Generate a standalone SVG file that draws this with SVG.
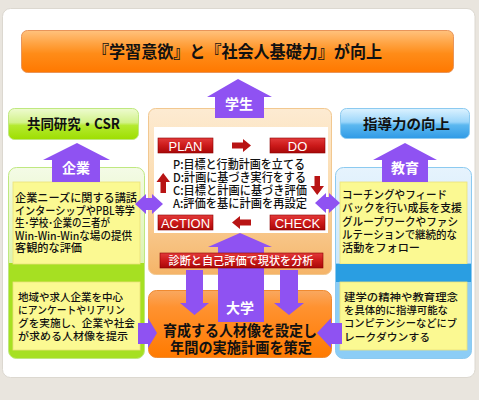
<svg xmlns="http://www.w3.org/2000/svg" width="479" height="400" viewBox="0 0 479 400">
<defs>
<linearGradient id="gTitle" x1="0" y1="0" x2="0" y2="1">
<stop offset="0" stop-color="#ffc27e"/><stop offset="0.3" stop-color="#ffa444"/><stop offset="0.55" stop-color="#ff8c18"/><stop offset="1" stop-color="#ff7800"/>
</linearGradient>
<linearGradient id="gGreenHead" x1="0" y1="0" x2="0" y2="1">
<stop offset="0" stop-color="#eefbd0"/><stop offset="0.45" stop-color="#d2f28a"/><stop offset="0.55" stop-color="#b4ea30"/><stop offset="1" stop-color="#9ede00"/>
</linearGradient>
<linearGradient id="gBlueHead" x1="0" y1="0" x2="0" y2="1">
<stop offset="0" stop-color="#dcf2ff"/><stop offset="0.45" stop-color="#9cd6fa"/><stop offset="0.55" stop-color="#5cb8f0"/><stop offset="1" stop-color="#2f9ae6"/>
</linearGradient>
<linearGradient id="gGreenBox" x1="0" y1="0" x2="0" y2="1">
<stop offset="0" stop-color="#f4fbe6"/><stop offset="0.5" stop-color="#dcf3b0"/><stop offset="0.5" stop-color="#a6e022"/><stop offset="1" stop-color="#a6e022"/>
</linearGradient>
<linearGradient id="gBlueBox" x1="0" y1="0" x2="0" y2="1">
<stop offset="0" stop-color="#e6f3fd"/><stop offset="0.5" stop-color="#cce7fa"/><stop offset="0.5" stop-color="#8ccdf6"/><stop offset="1" stop-color="#8ccdf6"/>
</linearGradient>
<linearGradient id="gCenter" x1="0" y1="0" x2="0" y2="1">
<stop offset="0" stop-color="#fdebd2"/><stop offset="0.45" stop-color="#fbdcb0"/><stop offset="1" stop-color="#f5b468"/>
</linearGradient>
<linearGradient id="gUniv" x1="0" y1="0" x2="0" y2="1">
<stop offset="0" stop-color="#f9a860"/><stop offset="0.25" stop-color="#ff9230"/><stop offset="1" stop-color="#ff7a00"/>
</linearGradient>
<linearGradient id="gRed" x1="0" y1="0" x2="0" y2="1">
<stop offset="0" stop-color="#e23a3a"/><stop offset="0.5" stop-color="#cc1a1a"/><stop offset="1" stop-color="#a80808"/>
</linearGradient>
<style>
.jp{font-family:"Noto Sans CJK JP","Noto Sans",sans-serif}
.title{font-size:17px;font-weight:bold;fill:#111;text-anchor:middle}
.head{font-size:14px;font-weight:bold;fill:#111;text-anchor:middle}
.lbl{font-size:14px;font-weight:bold;fill:#fff;text-anchor:middle}
.body{font-size:11px;font-weight:500;fill:#111}
.body2{font-size:10.5px;font-weight:500;fill:#111}
.pdca{font-size:12px;font-weight:500;fill:#111}
.btn{font-family:"Liberation Sans",Arial,sans-serif;font-size:13px;fill:#fff;text-anchor:middle}
.redbar{font-size:11px;font-weight:500;fill:#fff;text-anchor:middle}
.univ{font-size:15px;font-weight:bold;fill:#111;text-anchor:middle}
.arrow{fill:#8f52f2}
.rarrow{fill:#b81414}
.yel{fill:#fbf992;stroke:#ece27a;stroke-width:0.8}
.btnr{fill:url(#gRed);stroke:#8a0000;stroke-width:0.6}
</style>
</defs>
<rect x="0" y="0" width="479" height="400" fill="#e9e5de"/>
<rect x="2.5" y="8.5" width="472.5" height="369" rx="8" fill="#ffffff" stroke="#dcd8d0"/>

<g id="title">
<rect x="21.5" y="30.5" width="432" height="42" rx="6" fill="url(#gTitle)" stroke="#e8955a"/>
<text class="jp title" x="237.5" y="58" textLength="289" lengthAdjust="spacingAndGlyphs">『学習意欲』と『社会人基礎力』が向上</text>
</g>

<g id="csr-head">
<rect x="8.5" y="108.5" width="130" height="31" rx="6" fill="url(#gGreenHead)" stroke="#bfe880"/>
<text class="jp head" x="73.5" y="129" textLength="93" lengthAdjust="spacingAndGlyphs">共同研究・CSR</text>
</g>

<g id="shido-head">
<rect x="340.5" y="108.5" width="129" height="30" rx="6" fill="url(#gBlueHead)" stroke="#8ccaf0"/>
<text class="jp head" x="406.5" y="129" textLength="87" lengthAdjust="spacingAndGlyphs">指導力の向上</text>
</g>

<g id="kigyo">
<rect x="8.5" y="167.5" width="136" height="191" rx="8" fill="url(#gGreenBox)" stroke="#bfe880"/>
<rect x="13" y="182" width="127" height="82" class="yel"/>
<rect x="13" y="282" width="127" height="68" class="yel"/>
<text class="jp body" x="15" y="202" textLength="122" lengthAdjust="spacingAndGlyphs">企業ニーズに関する講話</text>
<text class="jp body" x="15" y="214.5" textLength="120" lengthAdjust="spacingAndGlyphs">インターシップやPBL等学</text>
<text class="jp body" x="15" y="227" textLength="95" lengthAdjust="spacingAndGlyphs">生･学校･企業の三者が</text>
<text class="jp body" x="15" y="239.5" textLength="117" lengthAdjust="spacingAndGlyphs">Win-Win-Winな場の提供</text>
<text class="jp body" x="15" y="252" textLength="67" lengthAdjust="spacingAndGlyphs">客観的な評価</text>
<text class="jp body2" x="18" y="301" textLength="105" lengthAdjust="spacingAndGlyphs">地域や求人企業を中心</text>
<text class="jp body2" x="18" y="314" textLength="107" lengthAdjust="spacingAndGlyphs">にアンケートやリアリン</text>
<text class="jp body2" x="18" y="327" textLength="117" lengthAdjust="spacingAndGlyphs">グを実施し、企業や社会</text>
<text class="jp body2" x="18" y="340" textLength="110" lengthAdjust="spacingAndGlyphs">が求める人材像を提示</text>
</g>

<g id="kyoiku">
<rect x="335.5" y="167.5" width="136" height="191" rx="8" fill="url(#gBlueBox)" stroke="#8ccaf0"/>
<rect x="340" y="182" width="127" height="82" class="yel"/>
<rect x="336" y="264" width="135" height="18" fill="#2a9ee2"/>
<rect x="340" y="282" width="127" height="68" class="yel"/>
<text class="jp body" x="342" y="199" textLength="105" lengthAdjust="spacingAndGlyphs">コーチングやフィード</text>
<text class="jp body" x="342" y="212" textLength="120" lengthAdjust="spacingAndGlyphs">バックを行い成長を支援</text>
<text class="jp body" x="342" y="226" textLength="116" lengthAdjust="spacingAndGlyphs">グループワークやファシ</text>
<text class="jp body" x="342" y="239" textLength="115" lengthAdjust="spacingAndGlyphs">ルテーションで継続的な</text>
<text class="jp body" x="342" y="252" textLength="78" lengthAdjust="spacingAndGlyphs">活動をフォロー</text>
<text class="jp body2" x="344" y="301" textLength="114" lengthAdjust="spacingAndGlyphs">建学の精神や教育理念</text>
<text class="jp body2" x="344" y="314" textLength="104" lengthAdjust="spacingAndGlyphs">を具体的に指導可能な</text>
<text class="jp body2" x="344" y="327" textLength="113" lengthAdjust="spacingAndGlyphs">コンピテンシーなどにブ</text>
<text class="jp body2" x="344" y="341" textLength="86" lengthAdjust="spacingAndGlyphs">レークダウンする</text>
</g>

<g id="pdca">
<rect x="148.5" y="108.5" width="183" height="166" rx="7" fill="url(#gCenter)" stroke="#f2c890"/>
<rect x="154" y="127" width="174" height="106" fill="#ffffff"/>
<rect class="btnr" x="158" y="138" width="55" height="15"/>
<text class="btn" x="185.5" y="150.5">PLAN</text>
<rect class="btnr" x="270" y="138" width="55" height="15"/>
<text class="btn" x="297.5" y="150.5">DO</text>
<rect class="btnr" x="158" y="215" width="55" height="15"/>
<text class="btn" x="185.5" y="227.5">ACTION</text>
<rect class="btnr" x="270" y="215" width="55" height="15"/>
<text class="btn" x="297.5" y="227.5">CHECK</text>
<polygon class="rarrow" points="232,142.5 243,142.5 243,139 251,145.5 243,152 243,148.5 232,148.5"/>
<polygon class="rarrow" points="251,219.5 240,219.5 240,216 232,222.5 240,229 240,225.5 251,225.5"/>
<polygon class="rarrow" points="314.5,176 320,176 320,186 324,186 317.2,195 310.5,186 314.5,186"/>
<polygon class="rarrow" points="160.5,193 166,193 166,182 170,182 163.2,173 156.5,182 160.5,182"/>
<text class="jp pdca" x="173" y="168.5" textLength="132" lengthAdjust="spacingAndGlyphs">P:目標と行動計画を立てる</text>
<text class="jp pdca" x="173" y="181.5" textLength="133" lengthAdjust="spacingAndGlyphs">D:計画に基づき実行をする</text>
<text class="jp pdca" x="173" y="194.5" textLength="134" lengthAdjust="spacingAndGlyphs">C:目標と計画に基づき評価</text>
<text class="jp pdca" x="173" y="207.5" textLength="134" lengthAdjust="spacingAndGlyphs">A:評価を基に計画を再設定</text>
</g>

<g id="daigaku">
<rect x="148.5" y="290.5" width="183" height="67" rx="8" fill="url(#gUniv)" stroke="#f08a30"/>
</g>

<g id="connectors">
<polygon class="arrow" points="238,79 272,97 264,97 264,118 215,118 215,97 207,97"/>
<text class="jp lbl" x="239" y="109">学生</text>
<polygon class="arrow" points="77,143 110,160 100,160 100,182 52,182 52,160 43,160"/>
<text class="jp lbl" x="76" y="173">企業</text>
<polygon class="arrow" points="405,143 437,160 428,160 428,182 382,182 382,160 373,160"/>
<text class="jp lbl" x="405" y="173">教育</text>
<polygon class="arrow" points="135,204 146,194 146,198 152,198 152,194 163,204 152,214 152,210 146,210 146,214"/>
<polygon class="arrow" points="315,203 326,193 326,197 329,197 329,193 340,203 329,213 329,209 326,209 326,213"/>
<polygon class="arrow" points="240,233 272,247 264,247 264,322 218,322 218,247 208,247"/>
<text class="jp lbl" x="240" y="313">大学</text>
<polygon class="arrow" points="186,270 203,270 203,303 209,303 194.5,315 180,303 186,303"/>
<polygon class="arrow" points="280,270 298,270 298,303 304,303 289,315 274,303 280,303"/>
<polygon class="arrow" points="138,323 148,323 148,318 157,333 148,348 148,344 138,344"/>
<polygon class="arrow" points="342,323 331,323 331,318 317,333 331,348 331,344 342,344"/>
</g>

<g id="diag-bar">
<rect x="160" y="253" width="163" height="15" fill="url(#gRed)" stroke="#8a0000" stroke-width="0.6"/>
<text class="jp redbar" x="241" y="264.5" textLength="145" lengthAdjust="spacingAndGlyphs">診断と自己評価で現状を分析</text>
</g>

<g id="daigaku-text">
<text class="jp univ" x="240" y="335.5" textLength="154" lengthAdjust="spacingAndGlyphs">育成する人材像を設定し</text>
<text class="jp univ" x="241" y="352.5" textLength="142" lengthAdjust="spacingAndGlyphs">年間の実施計画を策定</text>
</g>
</svg>
